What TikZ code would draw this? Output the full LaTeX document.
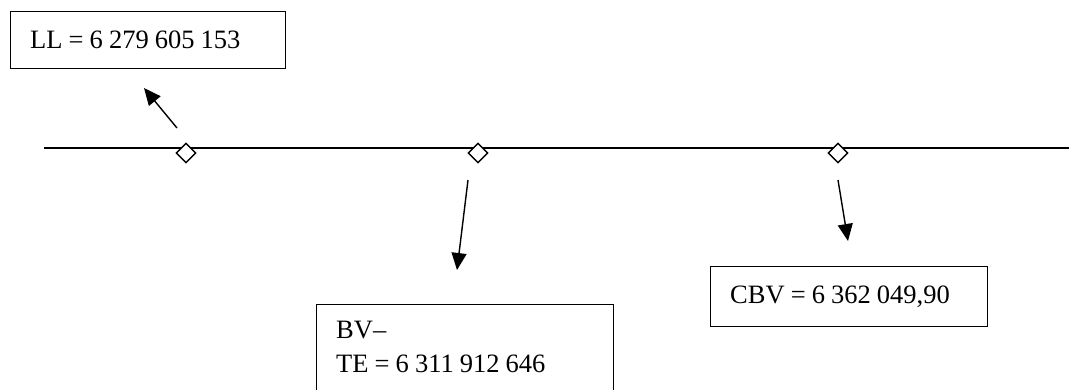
\documentclass[tikz,border=0pt]{standalone}
\usepackage{fontspec}
\setmainfont{Liberation Serif}
\usetikzlibrary{shapes.geometric,arrows.meta}
\newcommand\myvalfont{\fontsize{26.5}{34}\selectfont}
\newcommand\mytightspace{\spaceskip=0.23em plus 0.1em\relax\xspaceskip=0.23em\relax}
\begin{document}
\begin{tikzpicture}[x=1pt,y=-1pt,
  valbox/.style={draw,line width=1.4pt,anchor=north west,inner xsep=19pt,align=left,
    font=\myvalfont,execute at begin node=\mytightspace},
  mark diamond/.style={diamond,draw,line width=1.4pt,fill=white,minimum width=20pt,minimum height=20pt,inner sep=0pt},
  pointer/.style={line width=1.4pt,-{Triangle[length=17pt,width=15pt]}}]
\useasboundingbox (0,0) rectangle (1069,389);
\begin{scope}
\clip (0,0) rectangle (1069,389);
% value boxes
\node[valbox,minimum width=275pt,minimum height=57pt,text width=236pt] (ll) at (10,11) {LL = 6 279 605 153};
\node[valbox,minimum width=297pt,text width=258pt,inner ysep=16pt,text depth=40pt] (bv) at (316,304) {BV–\\TE = 6 311 912 646};
\node[valbox,minimum width=277pt,minimum height=60pt,text width=238pt] (cbv) at (710,266) {CBV = 6 362 049,90};
% axis line
\coordinate (axL) at (44,148);
\coordinate (axR) at (1069,148);
\draw[line width=1.4pt] (axL) -- (axR);
% markers
\node[mark diamond] (d1) at (186,153) {};
\node[mark diamond] (d2) at (478,153) {};
\node[mark diamond] (d3) at (838,153) {};
% arrow ends
\coordinate (a1s) at (177,128);
\coordinate (a1e) at (144,88);
\coordinate (a2s) at (468,180);
\coordinate (a2e) at (457,270);
\coordinate (a3s) at (838,180);
\coordinate (a3e) at (848,241);
\draw[pointer] (a1s) -- (a1e);
\draw[pointer] (a2s) -- (a2e);
\draw[pointer] (a3s) -- (a3e);
\end{scope}
\end{tikzpicture}
\end{document}
